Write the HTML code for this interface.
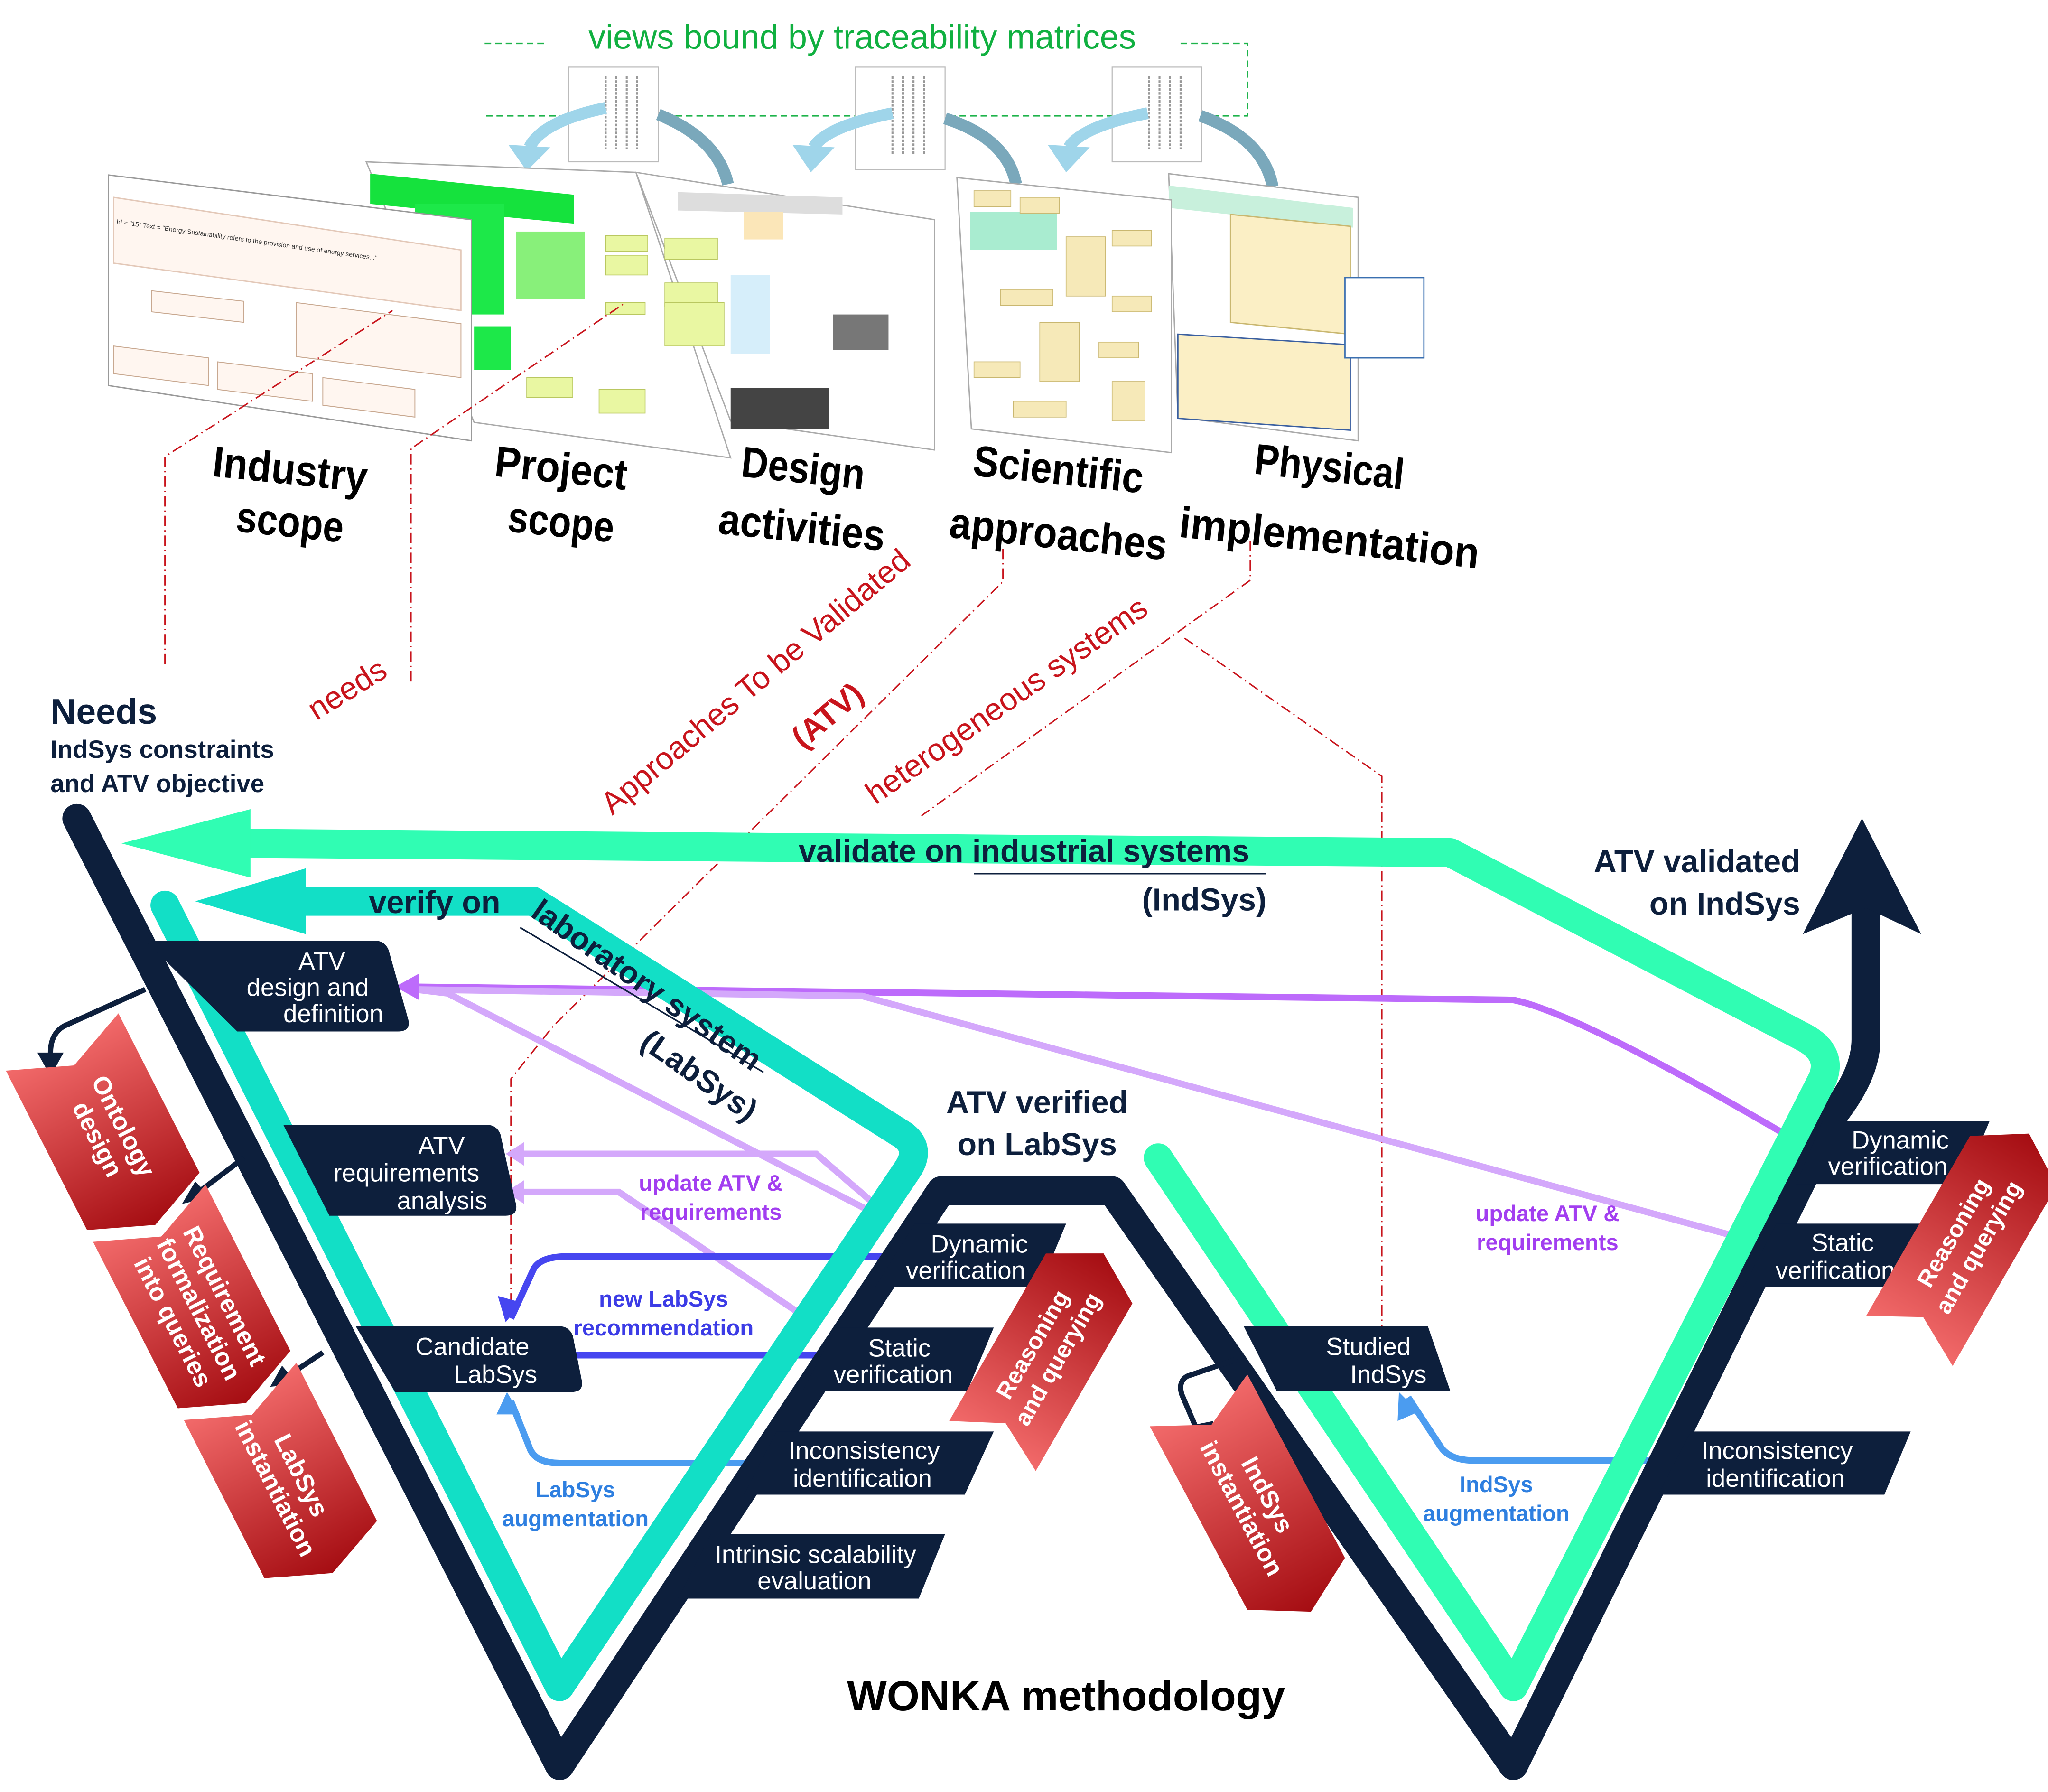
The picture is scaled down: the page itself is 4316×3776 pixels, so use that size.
<!DOCTYPE html>
<html><head><meta charset="utf-8"><style>
html,body{margin:0;padding:0;background:#fff;}
svg{display:block;}
text{font-family:"Liberation Sans",sans-serif;}
</style></head><body>
<svg width="4316" height="3776" viewBox="0 0 1556 1362" xmlns="http://www.w3.org/2000/svg">
<defs>
<linearGradient id="rg" x1="0" y1="0" x2="1" y2="0"><stop offset="0" stop-color="#f26a6a"/><stop offset="1" stop-color="#a50d12"/></linearGradient>
</defs>

<g>
<path d="M368,33 L415,33 M897,33 L948,33 L948,88 L368,88" fill="none" stroke="#1db34a" stroke-width="1.2" stroke-dasharray="5,3"/>
<text x="655" y="37" text-anchor="middle" font-size="26" fill="#10b040">views bound by traceability matrices</text>
</g>

<g fill="#fff" stroke="#bbb" stroke-width="0.8">
<rect x="432" y="51" width="68" height="72"/><rect x="650" y="51" width="68" height="78"/><rect x="845" y="51" width="68" height="72"/>
<path d="M460,58 v55 M468,58 v55 M476,58 v55 M484,58 v55 M678,58 v60 M686,58 v60 M694,58 v60 M702,58 v60 M873,58 v55 M881,58 v55 M889,58 v55 M897,58 v55" stroke="#999" stroke-width="1.5" stroke-dasharray="2,1"/>
</g>
<g fill="none" stroke-width="9">
<path d="M500,87 Q545,105 553,140" stroke="#7aa8bb"/>
<path d="M718,90 Q765,105 772,140" stroke="#7aa8bb"/>
<path d="M912,88 Q960,105 967,142" stroke="#7aa8bb"/>
<path d="M460,82 Q412,92 402,112" stroke="#9fd5ea"/>
<path d="M678,86 Q628,96 618,112" stroke="#9fd5ea"/>
<path d="M872,86 Q822,96 812,112" stroke="#9fd5ea"/>
<polygon points="386,110 418,112 400,130" fill="#9fd5ea" stroke="none"/>
<polygon points="602,110 634,112 616,131" fill="#9fd5ea" stroke="none"/>
<polygon points="796,110 828,112 810,131" fill="#9fd5ea" stroke="none"/>
</g>

<g>
<polygon points="888,132 1032,150 1032,335 895,317" fill="#fff" stroke="#aaa"/>
<polygon points="888,141 1028,158 1028,173 888,158" fill="#c8f0dc"/>
<polygon points="935,163 1026,172 1026,254 935,245" fill="#fbefc5" stroke="#c9b770"/>
<polygon points="895,254 1026,262 1026,327 895,318" fill="#fbefc5" stroke="#3a5fa0"/>
<rect x="1022" y="211" width="60" height="61" fill="#fff" stroke="#3a6fb0"/>
<polygon points="727,135 890,152 890,344 738,326" fill="#fff" stroke="#aaa"/>
<rect x="737" y="161" width="66" height="29" fill="#a9ecd0"/>
<g fill="#f6e9b8" stroke="#c9b770" stroke-width="0.6">
<rect x="740" y="145" width="28" height="12"/><rect x="775" y="150" width="30" height="12"/><rect x="810" y="180" width="30" height="45"/><rect x="845" y="175" width="30" height="12"/><rect x="760" y="220" width="40" height="12"/><rect x="790" y="245" width="30" height="45"/><rect x="845" y="225" width="30" height="12"/><rect x="740" y="275" width="35" height="12"/><rect x="835" y="260" width="30" height="12"/><rect x="845" y="290" width="25" height="30"/><rect x="770" y="305" width="40" height="12"/>
</g>
<polygon points="483,131 710,167 710,342 555,320" fill="#fff" stroke="#aaa"/>
<polygon points="515,146 640,150 640,163 515,160" fill="#ddd"/>
<rect x="565" y="161" width="30" height="21" fill="#fbe6b8"/>
<rect x="555" y="209" width="30" height="60" fill="#d6eefa"/>
<rect x="633" y="239" width="42" height="27" fill="#777"/>
<rect x="555" y="295" width="75" height="31" fill="#444"/>
<polygon points="278,123 483,131 555,348 360,321" fill="#fff" stroke="#aaa"/>
<polygon points="281,132 436,148 436,170 281,155" fill="#15e23d"/>
<rect x="315" y="155" width="68" height="84" fill="#1de849"/>
<rect x="360" y="248" width="28" height="33" fill="#1de849"/>
<rect x="392" y="176" width="52" height="51" fill="#88f07a"/>
<g fill="#e9f7a2" stroke="#b9c760" stroke-width="0.6">
<rect x="460" y="179" width="32" height="12"/><rect x="505" y="181" width="40" height="16"/><rect x="460" y="194" width="32" height="15"/><rect x="505" y="215" width="40" height="18"/><rect x="460" y="230" width="30" height="9"/><rect x="505" y="230" width="45" height="33"/><rect x="400" y="287" width="35" height="15"/><rect x="455" y="296" width="35" height="18"/>
</g>
<polygon points="82,133 358,167 358,335 82,293" fill="#fff" stroke="#999"/>
<polygon points="86,150 350,190 350,236 86,200" fill="#fff6f0" stroke="#e3c8b8"/>
<text transform="translate(88,170) rotate(8)" font-size="5" fill="#333">Id = "15"  Text = "Energy Sustainability refers to the provision and use of energy services..."</text>
<g fill="#fff6f0" stroke="#c8a890" stroke-width="0.7">
<polygon points="115,221 185,229 185,245 115,237"/><polygon points="225,230 350,246 350,287 225,271"/>
<polygon points="86,263 158,272 158,293 86,284"/><polygon points="165,275 237,284 237,305 165,296"/><polygon points="245,287 315,296 315,317 245,308"/>
</g>
</g>

<g font-size="33" font-weight="bold" fill="#000" text-anchor="middle" lengthAdjust="spacingAndGlyphs">
<text transform="translate(219,368) rotate(6)" textLength="118" lengthAdjust="spacingAndGlyphs">Industry</text><text transform="translate(219,408) rotate(6)" textLength="82" lengthAdjust="spacingAndGlyphs">scope</text>
<text transform="translate(425,367) rotate(6)" textLength="101" lengthAdjust="spacingAndGlyphs">Project</text><text transform="translate(425,408) rotate(6)" textLength="81" lengthAdjust="spacingAndGlyphs">scope</text>
<text transform="translate(609,367) rotate(6)" textLength="94" lengthAdjust="spacingAndGlyphs">Design</text><text transform="translate(608,412) rotate(6)" textLength="127" lengthAdjust="spacingAndGlyphs">activities</text>
<text transform="translate(803,368) rotate(6)" textLength="130" lengthAdjust="spacingAndGlyphs">Scientific</text><text transform="translate(803,417) rotate(6)" textLength="166" lengthAdjust="spacingAndGlyphs">approaches</text>
<text transform="translate(1009,366) rotate(6)" textLength="114" lengthAdjust="spacingAndGlyphs">Physical</text><text transform="translate(1009,420) rotate(6)" textLength="229" lengthAdjust="spacingAndGlyphs">implementation</text>
</g>

<g fill="none" stroke="#c8141c" stroke-width="1.1" stroke-dasharray="8,3,1,3">
<path d="M125,505 L125,347 L298,236"/>
<path d="M312,518 L312,341 L475,230"/>
<path d="M762,417 L762,442 L420,780 L388,820 L388,1000"/>
<path d="M950,411 L950,441 L700,620"/>
<path d="M900,485 L1050,590 L1050,1010"/>
</g>
<g fill="#c8141c" font-size="24">
<text transform="translate(240,548) rotate(-32)">needs</text>
<text transform="translate(465,620) rotate(-40)">Approaches To be Validated</text>
<text transform="translate(610,570) rotate(-40)" font-weight="bold">(ATV)</text>
<text transform="translate(665,612) rotate(-35)">heterogeneous systems</text>
</g>

<g fill="#0d1f3c" font-weight="bold">
<text x="38" y="550" font-size="27">Needs</text>
<text x="38" y="576" font-size="19">IndSys constraints</text>
<text x="38" y="602" font-size="19">and ATV objective</text>
</g>

<g fill="none" stroke-width="5">
<path d="M312,750 L1150,760 Q1200,770 1370,870" stroke="#bd6bfb"/>
<path d="M315,752 L340,755 L660,920" stroke="#d4a8fb"/>
<path d="M312,752 L655,757 L1320,940" stroke="#d4a8fb"/>
<path d="M392,877 L620,877 L670,920" stroke="#d4a8fb"/>
<path d="M392,906 L470,906 L610,1000" stroke="#d4a8fb"/>
<path d="M392,1030 L640,1030" stroke="#4646f0"/>
<path d="M388,1002 L405,965 Q410,955 430,955 L695,955" stroke="#4646f0"/>
<path d="M388,1065 L402,1100 Q406,1112 425,1112 L600,1112" stroke="#4b9cf0"/>
<path d="M1070,1062 L1095,1100 Q1102,1110 1120,1110 L1270,1110" stroke="#4b9cf0"/>
</g>
<g>
<polygon points="300,750 318,740 318,760" fill="#bd6bfb"/>
<polygon points="384,877 398,868 398,886" fill="#d4a8fb"/>
<polygon points="384,906 398,897 398,915" fill="#d4a8fb"/>
<polygon points="382,1030 400,1020 400,1040" fill="#4646f0"/>
<polygon points="384,1005 378,985 396,990" fill="#4646f0"/>
<polygon points="385,1058 377,1075 395,1075" fill="#4b9cf0"/>
<polygon points="1063,1058 1062,1080 1078,1073" fill="#4b9cf0"/>
</g>

<g>
<path d="M58,622 L425,1342 L715,905 L845,905 L1150,1342 L1395,845 Q1418,815 1418,790 L1418,690" fill="none" stroke="#0d1f3c" stroke-width="22" stroke-linejoin="round" stroke-linecap="round"/>
<polygon points="1370,710 1415,622 1460,710 1418,690" fill="#0d1f3c"/>
</g>

<g>
<path d="M880,880 L1150,1282 L1385,820 Q1393,800 1370,788 L1102,648 L190,641" fill="none" stroke="#30fdb3" stroke-width="22" stroke-linejoin="round" stroke-linecap="round"/>
<polygon points="92,641 190,615 190,667" fill="#30fdb3"/>
</g>
<g>
<path d="M125,688 L425,1282 L690,888 Q700,872 685,862 L405,685 L232,685" fill="none" stroke="#12dfc6" stroke-width="22" stroke-linejoin="round" stroke-linecap="round"/>
<polygon points="148,685 232,660 232,710" fill="#12dfc6"/>
</g>

<g fill="#0d1f3c" font-weight="bold">
<text x="778" y="655" text-anchor="middle" font-size="24">validate on industrial systems</text>
<line x1="740" y1="664" x2="962" y2="664" stroke="#0d1f3c" stroke-width="1.2"/>
<text x="915" y="692" text-anchor="middle" font-size="24">(IndSys)</text>
<text x="330" y="694" text-anchor="middle" font-size="24">verify on</text>
<text transform="translate(402,696) rotate(35)" font-size="24">laboratory system</text>
<line x1="395" y1="705" x2="580" y2="815" stroke="#0d1f3c" stroke-width="1.2"/>
<text transform="translate(485,795) rotate(35)" font-size="24">(LabSys)</text>
<text x="1368" y="663" text-anchor="end" font-size="24">ATV validated</text>
<text x="1368" y="695" text-anchor="end" font-size="24">on IndSys</text>
<text x="788" y="846" text-anchor="middle" font-size="24">ATV verified</text>
<text x="788" y="878" text-anchor="middle" font-size="24">on LabSys</text>
</g>

<g fill="#0d1f3c">
<path d="M110,715 L285,715 Q292,715 295,722 L310,775 Q312,784 302,784 L180,784 Z"/>
<path d="M215,855 L370,855 Q377,855 380,862 L392,916 Q393,924 384,924 L250,924 Z"/>
<path d="M270,1008 L425,1008 Q432,1008 435,1015 L442,1050 Q443,1058 434,1058 L300,1058 Z"/>
<path d="M695,930 L810,930 L790,978 L665,978 Z"/>
<path d="M635,1009 L755,1009 L735,1057 L610,1057 Z"/>
<path d="M590,1088 L755,1088 L733,1136 L565,1136 Z"/>
<path d="M540,1166 L718,1166 L698,1215 L515,1215 Z"/>
<path d="M945,1008 L1085,1008 L1102,1057 L970,1057 Z"/>
<path d="M1385,852 L1512,852 L1492,900 L1365,900 Z"/>
<path d="M1350,930 L1472,930 L1452,978 L1325,978 Z"/>
<path d="M1285,1088 L1452,1088 L1432,1136 L1260,1136 Z"/>
</g>
<g fill="#fff" font-size="19" text-anchor="end">
<text x="262" y="737">ATV</text><text x="280" y="757">design and</text><text x="291" y="777">definition</text>
<text x="353" y="877">ATV</text><text x="364" y="898">requirements</text><text x="370" y="919">analysis</text>
<text x="402" y="1030">Candidate</text><text x="408" y="1051">LabSys</text>
<text x="781" y="952">Dynamic</text><text x="779" y="972">verification</text>
<text x="707" y="1031">Static</text><text x="724" y="1051">verification</text>
<text x="714" y="1109">Inconsistency</text><text x="708" y="1130">identification</text>
<text x="696" y="1188">Intrinsic scalability</text><text x="662" y="1208">evaluation</text>
<text x="1072" y="1030">Studied</text><text x="1084" y="1051">IndSys</text>
<text x="1481" y="873">Dynamic</text><text x="1480" y="893">verification</text>
<text x="1424" y="951">Static</text><text x="1440" y="972">verification</text>
<text x="1408" y="1109">Inconsistency</text><text x="1402" y="1130">identification</text>
</g>

<g font-size="17" font-weight="bold" text-anchor="middle">
<text x="540" y="905" fill="#a23ef0">update ATV &amp;</text><text x="540" y="927" fill="#a23ef0">requirements</text>
<text x="1176" y="928" fill="#a23ef0">update ATV &amp;</text><text x="1176" y="950" fill="#a23ef0">requirements</text>
<text x="504" y="993" fill="#3c3ce6">new LabSys</text><text x="504" y="1015" fill="#3c3ce6">recommendation</text>
<text x="437" y="1138" fill="#2e7fe0">LabSys</text><text x="437" y="1160" fill="#2e7fe0">augmentation</text>
<text x="1137" y="1134" fill="#2e7fe0">IndSys</text><text x="1137" y="1156" fill="#2e7fe0">augmentation</text>
</g>

<g fill="none" stroke="#0d1f3c" stroke-width="4">
<path d="M110,752 L48,780 Q38,786 38,800 L38,810"/>
<path d="M185,880 L148,908"/>
<path d="M245,1028 L215,1048"/>
<path d="M940,1033 L902,1046 Q895,1050 898,1060 L910,1088"/>
</g>
<g fill="#0d1f3c">
<polygon points="28,800 48,800 38,818"/><polygon points="138,915 160,910 148,898"/><polygon points="205,1054 226,1052 214,1038"/><polygon points="902,1084 922,1080 916,1098"/>
</g>

<g transform="translate(55,808) rotate(63)">
<polygon points="-18,-48 118,-48 138,0 118,48 -18,48 2,0" fill="url(#rg)"/>
<polygon points="128,-48 270,-48 290,0 270,48 128,48 148,0" fill="url(#rg)"/>
<polygon points="280,-48 415,-48 435,0 415,48 280,48 300,0" fill="url(#rg)"/>
<g fill="#fff" font-size="19" font-weight="bold" text-anchor="middle">
<text x="60" y="-6">Ontology</text><text x="60" y="16">design</text>
<text x="210" y="-16">Requirement</text><text x="210" y="6">formalization</text><text x="210" y="28">into queries</text>
<text x="358" y="-6">LabSys</text><text x="358" y="16">instantiation</text>
</g>
</g>
<g transform="translate(795,1028) rotate(-60)">
<polygon points="-82,-38 65,-38 87,0 65,38 -82,38 -62,0" fill="url(#rg)"/>
<g fill="#fff" font-size="18" font-weight="bold" text-anchor="middle"><text x="0" y="-6">Reasoning</text><text x="0" y="16">and querying</text></g>
</g>
<g transform="translate(1495,943) rotate(-60)">
<polygon points="-88,-38 70,-38 94,0 70,38 -88,38 -67,0" fill="url(#rg)"/>
<g fill="#fff" font-size="18" font-weight="bold" text-anchor="middle"><text x="0" y="-6">Reasoning</text><text x="0" y="16">and querying</text></g>
</g>
<g transform="translate(952,1142) rotate(62)">
<polygon points="-88,-42 70,-42 94,0 70,42 -88,42 -67,0" fill="url(#rg)"/>
<g fill="#fff" font-size="19" font-weight="bold" text-anchor="middle"><text x="0" y="-6">IndSys</text><text x="0" y="16">instantiation</text></g>
</g>

<text x="810" y="1300" text-anchor="middle" font-size="32" font-weight="bold" fill="#000">WONKA methodology</text>
</svg>
</body></html>
